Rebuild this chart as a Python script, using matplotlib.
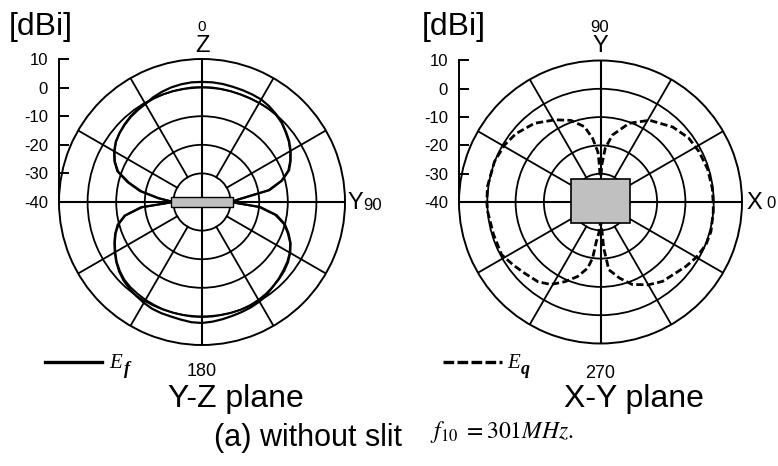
import numpy as np
import matplotlib.pyplot as plt
from matplotlib.patches import Rectangle
from matplotlib.lines import Line2D

plt.rcParams['font.family'] = 'Liberation Sans'
plt.rcParams['mathtext.fontset'] = 'stix'
plt.rcParams['axes.unicode_minus'] = False

W, H = 778, 466

# Y-Z plane, E_phi: two solid traces, angle clockwise from +Z (deg), gain in dBi
yz_angle = np.arange(0, 361, 5)
yz_trace1 = [2.0, 2.0, 1.9, 1.7, 1.6, 1.5, 1.4, 0.9, 0.2, -0.6, -1.7, -2.8, -4.2,
             -5.8, -7.6, -11.0, -16.0, -26.0, -30.0, -19.5, -13.5, -10.0, -7.8,
             -5.8, -4.4, -3.3, -2.5, -1.9, -1.4, -0.5, 0.2, 0.6, 0.9, 1.2, 1.6,
             2.0, 2.3, 2.2, 1.8, 1.5, 1.4, 1.2, 0.7, 0.1, -0.5, -1.2, -2.2, -3.4,
             -4.8, -6.2, -7.7, -9.5, -12.5, -18.5, -30.0, -24.5, -18.0, -13.0,
             -8.5, -6.2, -4.5, -3.2, -2.4, -1.8, -1.2, -0.8, -0.4, 0.4, 1.0, 1.5,
             1.8, 2.0, 2.0]
yz_trace2 = [0.2, 0.2, 0.1, 0.0, -0.1, -0.1, 0.0, 0.1, 0.0, -0.7, -1.9, -3.0, -4.4,
             -6.0, -7.9, -11.3, -16.5, -26.5, -30.0, -20.0, -14.0, -10.4, -8.1,
             -6.0, -4.6, -3.6, -2.9, -2.1, -1.4, -0.9, -0.5, -0.2, 0.0, 0.1, 0.1,
             0.2, 0.2, 0.2, 0.1, 0.0, -0.1, -0.3, -0.5, -0.8, -1.1, -1.6, -2.5,
             -3.6, -5.0, -6.4, -7.9, -9.8, -12.8, -19.0, -30.0, -25.0, -18.5,
             -13.5, -8.8, -6.4, -4.7, -3.3, -2.4, -1.6, -1.0, -0.5, -0.3, -0.1,
             0.0, 0.1, 0.1, 0.2, 0.2]

# X-Y plane, E_theta: dashed trace, angle counter-clockwise from +X (deg)
xy_angle = [0, 7, 17, 27, 36, 46, 59, 70, 80, 85, 88, 90, 92, 93, 97, 102, 110,
            119, 130, 141, 149, 159, 172, 180, 185, 197, 208, 216, 223, 232, 239,
            246, 253, 259, 262, 264, 267, 270, 273, 274, 277, 284, 291, 300, 308,
            317, 323, 330, 338, 345, 355, 360]
xy_gain = [-0.2, -0.2, -0.4, -0.9, -1.5, -3.2, -6.3, -10.4, -16.0, -21.0, -27.0,
           -33.0, -26.0, -22.3, -17.4, -12.8, -9.3, -6.8, -3.7, -1.6, -0.6, 0.1,
           0.3, 0.2, 0.0, -0.5, -0.4, -2.0, -3.2, -4.2, -6.0, -9.2, -12.5, -16.2,
           -20.0, -26.0, -29.0, -33.0, -29.6, -23.7, -15.9, -12.3, -8.8, -6.2,
           -4.4, -3.4, -2.2, -0.9, 0.2, 0.4, 0.0, -0.2]

r_ticks = [-40, -30, -20, -10, 0, 10]

fig = plt.figure(figsize=(W / 100, H / 100), dpi=100)


def txt(x, y, s, **kw):
    return fig.text(x / W, 1 - y / H, s, **kw)


def panel(cx, cy, r):
    rect = [(cx - r) / W, 1 - (cy + r) / H, 2 * r / W, 2 * r / H]
    ax = fig.add_axes(rect, projection='polar')
    ax.set_ylim(r_ticks[0], r_ticks[-1])
    ax.set_xticks([])
    ax.set_yticks(r_ticks[1:-1])
    ax.set_yticklabels([])
    ax.grid(True, color='k', lw=1.3)
    ax.spines['polar'].set_linewidth(1.4)
    # spokes every 30 deg, stopping at the -30 dB ring
    for a in range(0, 360, 30):
        if a % 90:
            ax.plot(np.radians([a, a]), [-30, 10], color='k', lw=1.3)
    # main axes through the centre
    for a in range(0, 360, 90):
        ax.plot(np.radians([a, a]), [-40, 10], color='k', lw=1.5)

    axc = fig.add_axes(rect)
    axc.set_xlim(-50, 50)
    axc.set_ylim(-90, 10)
    axc.patch.set_visible(False)
    for s in ('top', 'right', 'bottom'):
        axc.spines[s].set_visible(False)
    axc.spines['left'].set_bounds(-40, 10)
    axc.spines['left'].set_linewidth(1.4)
    axc.set_xticks([])
    axc.set_yticks(r_ticks)
    axc.tick_params(axis='y', direction='in', length=7, width=1.4, pad=8,
                    labelsize=12)
    return ax, axc


# ---- left: Y-Z plane
ax1, axc1 = panel(202, 202, 143)
ax1.set_theta_zero_location('N')
ax1.set_theta_direction(-1)
ax1.plot(np.radians(yz_angle), yz_trace1, color='k', lw=1.6)
ax1.plot(np.radians(yz_angle), yz_trace2, color='k', lw=1.4)
axc1.add_patch(Rectangle((-10.7, -41.75), 21.4, 3.5, fc='#c0c0c0', ec='k', lw=1))

# ---- right: X-Y plane
ax2, axc2 = panel(600.5, 202, 141.5)
ax2.plot(np.radians(xy_angle), xy_gain, color='k', lw=2, ls=(0, (2.6, 1.2)))
axc2.add_patch(Rectangle((-10.4, -47.3), 20.8, 15.3, fc='#c0c0c0', ec='k', lw=1.2))

# ---- labels
txt(9, 27, '[dBi]', fontsize=23, va='center', ha='left')
txt(422, 27, '[dBi]', fontsize=23, va='center', ha='left')

txt(202, 27, '0', fontsize=11, ha='center', va='center')
txt(202, 46, 'Z', fontsize=17, ha='center', va='center')
txt(347, 203, 'Y', fontsize=17, ha='left', va='center')
txt(363, 205, '90', fontsize=12, ha='left', va='center')
txt(202, 372, '180', fontsize=13, ha='center', va='center')
txt(236, 407, 'Y-Z plane', fontsize=23, ha='center', va='baseline')

txt(600, 28, '90', fontsize=12, ha='center', va='center')
txt(600, 46, 'Y', fontsize=17, ha='center', va='center')
txt(746, 203, 'X', fontsize=17, ha='left', va='center')
txt(766, 204, '0', fontsize=12, ha='left', va='center')
txt(600, 373, '270', fontsize=13, ha='center', va='center')
txt(634, 407, 'X-Y plane', fontsize=23, ha='center', va='baseline')

txt(214, 446, '(a) without slit', fontsize=22, ha='left', va='baseline')
txt(430, 438, r'$f_{\rm 10}\ = 301MHz.$', fontsize=17, ha='left', va='baseline')

# ---- legend samples
fig.add_artist(Line2D([45 / W, 102 / W], [1 - 362 / H] * 2, color='k', lw=2.4))
txt(109, 368, 'E', fontsize=15, family='Liberation Serif', style='italic',
    ha='left', va='baseline')
txt(124, 374, 'f', fontsize=13, family='Liberation Serif', style='italic',
    weight='bold', ha='left', va='baseline')

fig.add_artist(Line2D([443 / W, 502 / W], [1 - 362 / H] * 2, color='k', lw=2.4,
                      ls=(0, (3.2, 1.0))))
txt(507, 368, 'E', fontsize=15, family='Liberation Serif', style='italic',
    ha='left', va='baseline')
txt(521, 374, 'q', fontsize=13, family='Liberation Serif', style='italic',
    weight='bold', ha='left', va='baseline')

fig.savefig('out.png', dpi=100)
